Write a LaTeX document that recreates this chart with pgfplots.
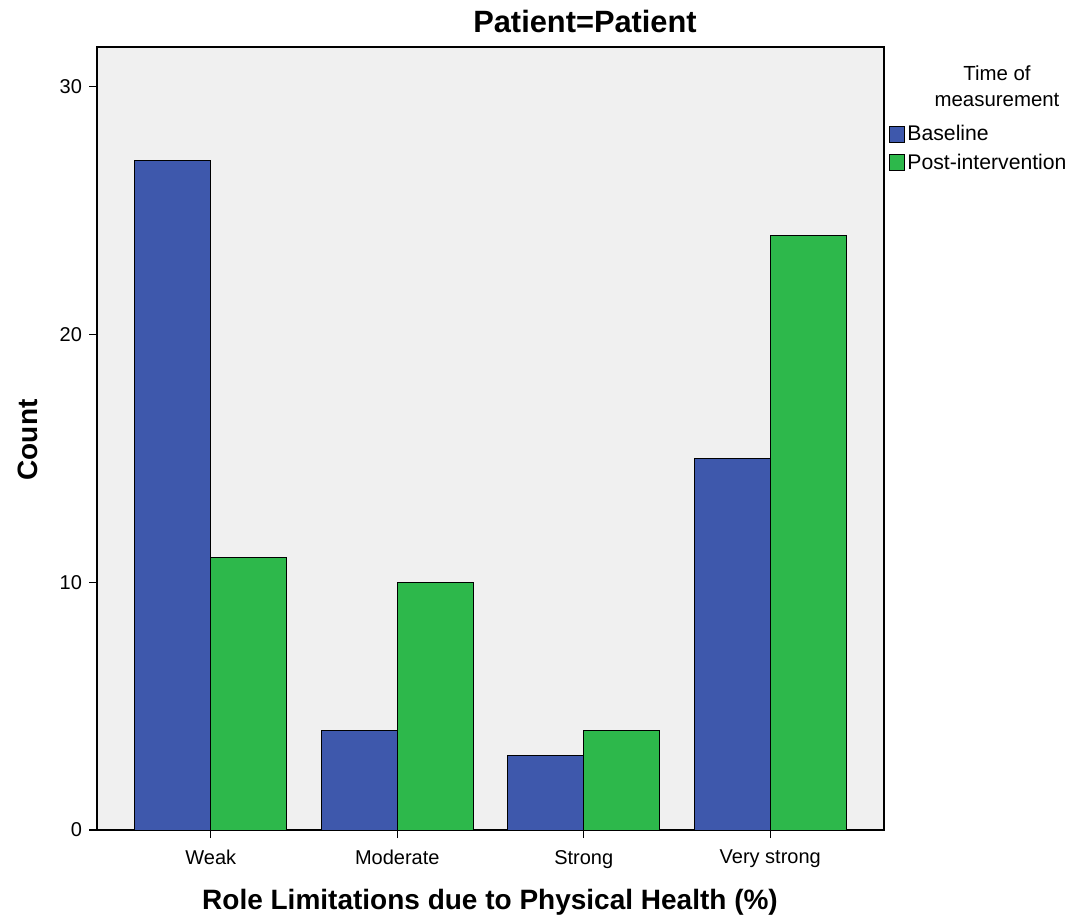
\documentclass[border=0pt]{standalone}
\usepackage{fontspec}
\setmainfont{Liberation Sans}
\setsansfont{Liberation Sans}
\usepackage{pgfplots}
\pgfplotsset{compat=1.18}
\definecolor{cblue}{HTML}{3E58AC}
\definecolor{cgreen}{HTML}{2DB84B}
\definecolor{cbg}{HTML}{F0F0F0}
\begin{document}
\begin{tikzpicture}
\path[use as bounding box] (-48.5pt,-45.5pt) rectangle (489pt,415pt);
\begin{axis}[
  at={(0pt,0pt)}, anchor=south west,
  scale only axis, width=393.5pt, height=391.5pt,
  xmin=-0.61, xmax=3.61, ymin=0, ymax=31.6,
  ybar=0pt, bar width=38pt,
  axis background/.style={fill=cbg},
  axis line style={line width=0.6pt, black},
  xtick={0,1,2,3},
  xticklabels={Weak,Moderate,Strong,Very strong},
  ytick={0,10,20,30},
  tick align=outside, tick pos=left,
  major tick length=4pt,
  tick style={line width=0.6pt, black},
  ticklabel style={font=\fontsize{10}{12}\selectfont},
  xticklabel style={yshift=-2.5pt},
  /pgf/number format/assume math mode=true,
  legend style={draw=none, fill=none, at={(1.0064,0.9030)}, anchor=north west,
    inner sep=0pt, row sep=3pt, font=\fontsize{10.6}{12}\selectfont,
    nodes={inner sep=1pt, anchor=west}},
  legend cell align=left,
]
\addplot[fill=cblue, draw=black, line width=0.5pt,
  legend image code/.code={\draw[fill=cblue,draw=black,line width=0.5pt] (0pt,-4pt) rectangle (7.5pt,4pt);}]
  coordinates {(0,27) (1,4) (2,3) (3,15)};
\addlegendentry{Baseline}
\addplot[fill=cgreen, draw=black, line width=0.5pt,
  legend image code/.code={\draw[fill=cgreen,draw=black,line width=0.5pt] (0pt,-4pt) rectangle (7.5pt,4pt);}]
  coordinates {(0,11) (1,10) (2,4) (3,24)};
\addlegendentry{Post-intervention}
\end{axis}
\node[font=\bfseries\fontsize{15.4}{17}\selectfont] at (244pt,404pt) {Patient=Patient};
\node[align=center, font=\fontsize{10.2}{13}\selectfont] at (450pt,372pt) {Time of\\measurement};
\node[rotate=90, font=\bfseries\fontsize{14}{16}\selectfont] at (-34.5pt,195pt) {Count};
\node[font=\bfseries\fontsize{14}{16}\selectfont] at (196.5pt,-36pt) {Role Limitations due to Physical Health (\%)};
\end{tikzpicture}
\end{document}
